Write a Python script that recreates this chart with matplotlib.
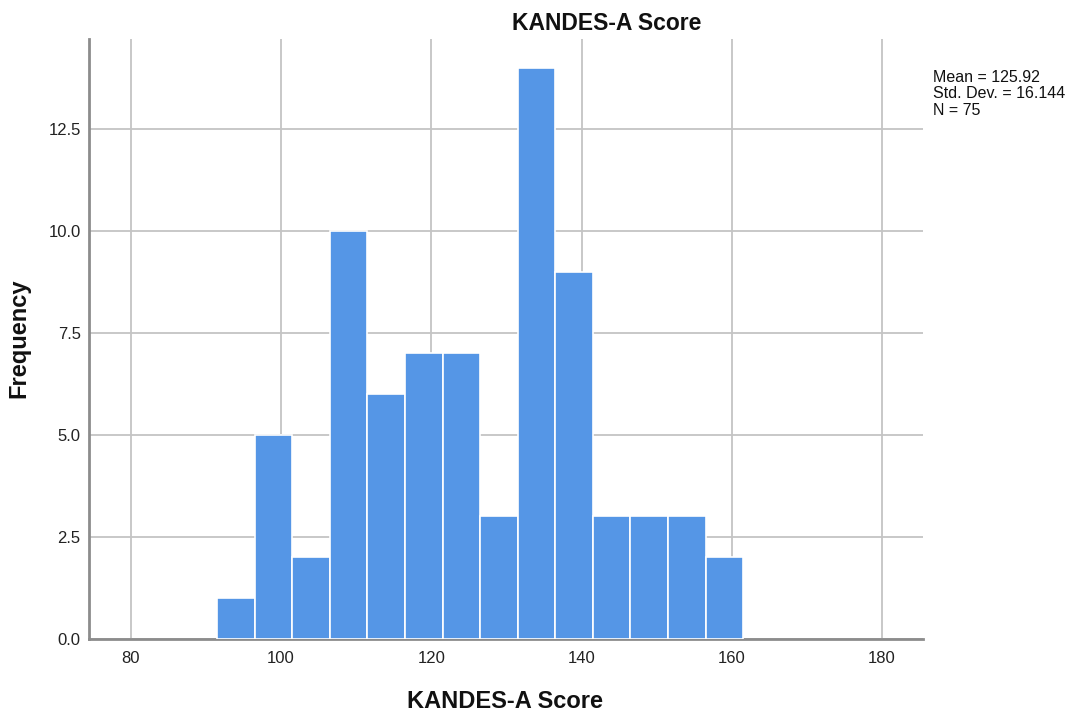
import matplotlib
matplotlib.use("Agg")
import matplotlib.pyplot as plt

# Data
bin_left_edges = [91.5, 96.5, 101.5, 106.5, 111.5, 116.5, 121.5, 126.5,
                  131.5, 136.5, 141.5, 146.5, 151.5, 156.5]
bin_width = 5
counts = [1, 5, 2, 10, 6, 7, 7, 3, 14, 9, 3, 3, 3, 2]
x_ticks = [80, 100, 120, 140, 160, 180]
y_ticks = [0.0, 2.5, 5.0, 7.5, 10.0, 12.5]
y_tick_labels = ["0.0", "2.5", "5.0", "7.5", "10.0", "12.5"]
title = "KANDES-A Score"
x_label = "KANDES-A Score"
y_label = "Frequency"
stats_text = "Mean = 125.92\nStd. Dev. = 16.144\nN = 75"

plt.rcParams['font.family'] = ['Liberation Sans', 'DejaVu Sans']

fig = plt.figure(figsize=(10.69, 7.2), dpi=100)
ax = fig.add_axes([89/1069, 1 - 638.7/720, (922.7-89)/1069, (638.7-39.3)/720])

ax.bar(bin_left_edges, counts, width=bin_width, align='edge',
       color='#5596e6', edgecolor='white', linewidth=1.2, zorder=3)

ax.set_xlim(74.45, 185.4)
ax.set_ylim(0, 14.71)
ax.set_xticks(x_ticks)
ax.set_yticks(y_ticks)
ax.set_yticklabels(y_tick_labels)
ax.grid(True, color='#c4c4c4', linewidth=1.3, zorder=0)
ax.set_axisbelow(True)
ax.tick_params(axis='x', length=0, labelsize=12, colors='#222222', pad=9)
ax.tick_params(axis='y', length=0, labelsize=12, colors='#222222', pad=6)

for s in ['top', 'right']:
    ax.spines[s].set_visible(False)
ax.spines['left'].set_color('#8c8c8c')
ax.spines['left'].set_linewidth(2)
ax.spines['bottom'].set_color('#8c8c8c')
ax.spines['bottom'].set_linewidth(2)

fig.text(607/1069, 1 - 23/720, title, ha='center', va='center',
         fontsize=16.5, fontweight='bold', color='#111111')
fig.text(505/1069, 1 - 701/720, x_label, ha='center', va='center',
         fontsize=17, fontweight='bold', color='#111111')
fig.text(19/1069, 1 - 338/720, y_label, ha='center', va='center', rotation=90,
         fontsize=17, fontweight='bold', color='#111111')

fig.text(933/1069, 1 - 70/720, stats_text, ha='left', va='top',
         fontsize=11.5, linespacing=1.12, color='#111111')

fig.savefig("out.png", dpi=100)
